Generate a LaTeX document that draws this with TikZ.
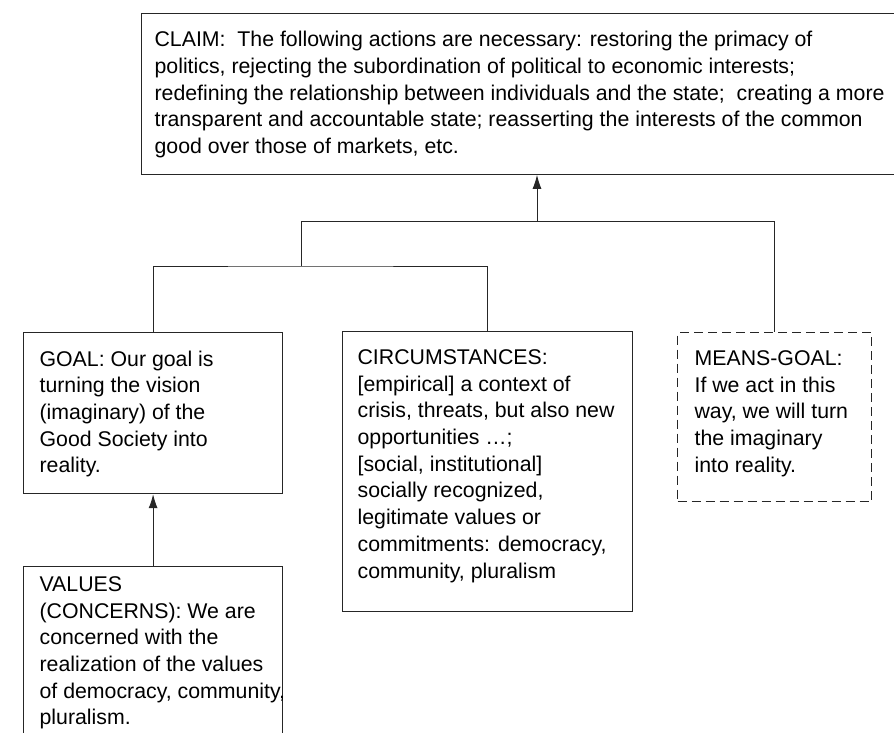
\documentclass[tikz,border=0pt]{standalone}
\usepackage{fontspec}
\setmainfont{Liberation Sans}
\usetikzlibrary{arrows.meta}

\tikzset{
    argbox/.style={draw=black!85, line width=1.2pt, anchor=north west,
        inner xsep=15pt, inner ysep=18pt, font=\fontsize{21.3}{26.7}\selectfont},
    meansbox/.style={argbox, dash pattern=on 9pt off 5pt},
    link/.style={draw=black!85, line width=0.9pt},
    uplink/.style={link, -{Latex[length=14pt,width=9pt]}}
}
\newcommand{\boxtext}[3]{\parbox[t][#1][t]{#2}{\raggedright #3}}

\begin{document}
\begin{tikzpicture}[x=1pt, y=-1pt]
    \useasboundingbox (0,0) rectangle (894,732);

    % Claim at the top
    \node[argbox, inner xsep=13pt] (claim) at (141,12.7) {\boxtext{125pt}{730pt}{%
        CLAIM:\ \ The following actions are necessary: restoring the primacy of\\
        politics, rejecting the subordination of political to economic interests;\\
        redefining the relationship between individuals and the state;\ \ creating a more\\
        transparent and accountable state; reasserting the interests of the common\\
        good over those of markets, etc.}};

    % Premises
    \node[argbox, inner xsep=16pt] (goal) at (23,332) {\boxtext{125pt}{227pt}{%
        GOAL: Our goal is\\ turning the vision\\ (imaginary) of the\\
        Good Society into\\ reality.}};
    \node[argbox] (circ) at (342,331) {\boxtext{244pt}{260pt}{%
        CIRCUMSTANCES:\\\relax[empirical] a context of\\
        crisis, threats, but also new\\ opportunities \ldots;\\
        \relax[social, institutional]\\ socially recognized,\\
        legitimate values or\\ commitments: democracy,\\ community, pluralism}};
    \node[meansbox, inner xsep=17pt] (means) at (677,332) {\boxtext{133pt}{160pt}{%
        MEANS-GOAL:\\ If we act in this\\ way, we will turn\\
        the imaginary\\ into reality.}};
    \node[argbox, inner xsep=16pt, inner ysep=10pt] (values) at (23,566) {\boxtext{200pt}{227pt}{%
        VALUES\\ (CONCERNS): We are\\ concerned with the\\
        realization of the values\\ \mbox{of democracy, community,}\\ pluralism.}};

    % Connectors
    \coordinate (jtop) at (537,221);
    \coordinate (jleft) at (301,221);
    \coordinate (jmid) at (301,266);
    \draw[uplink] (jtop) -- (jtop |- claim.south);
    \draw[link] (jleft) -| (means.north);
    \draw[link] (jleft) -- (jmid);
    \draw[link] (goal.north) |- (jmid) -| (circ.north);
    \draw[uplink] (values.north) -- (goal.south);
\end{tikzpicture}
\end{document}
